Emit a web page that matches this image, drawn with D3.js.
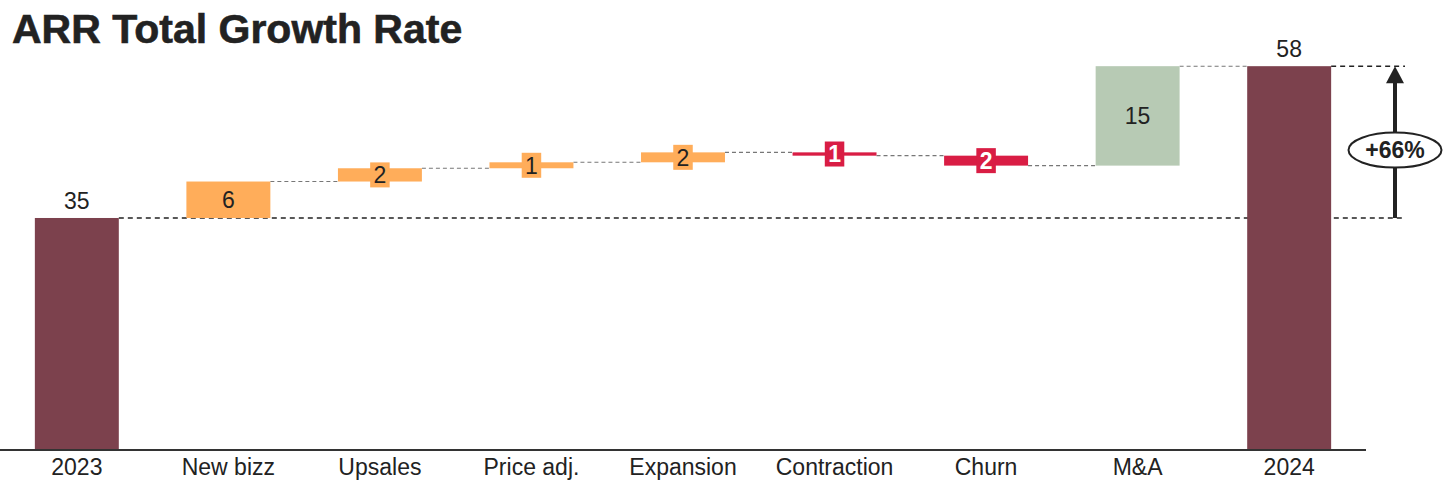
<!DOCTYPE html>
<html><head><meta charset="utf-8">
<script src="https://cdn.jsdelivr.net/npm/d3@7"></script>
<style>body{margin:0;background:#fff;}svg{display:block;font-family:"Liberation Sans",Arial,sans-serif;}</style>
</head><body>
<svg id="c" width="1456" height="496"></svg>
<script>
const categories = ["2023","New bizz","Upsales","Price adj.","Expansion","Contraction","Churn","M&A","2024"];
const values = [35, 5.5, 2.0, 0.9, 1.5, -0.5, -1.5, 15, 57.9];
const types = ["total","up","up","up","up","down","down","ma","total"];
const labels = ["35","6","2","1","2","1","2","15","58"];
const growthLabel = "+66%";

const colors = {total:"#7c414d", up:"#ffad5a", down:"#d91d44", ma:"#b7cab4"};
const svg = d3.select("#c");

svg.append("text").attr("x",12).attr("y",43).attr("font-size",41).attr("font-weight","bold")
  .attr("fill","#222").attr("stroke","#222").attr("stroke-width",0.6).text("ARR Total Growth Rate");

const x = d3.scaleBand().domain(categories).range([0,1366]).paddingInner(0.446).paddingOuter(0.23);
const y = d3.scaleLinear().domain([0,60]).range([450, 450-60*6.629]);

let run = 0;
const bars = categories.map((c,i)=>{
  let y0,y1;
  if(types[i]==="total"){ y0=0; y1=values[i]; run=values[i]; }
  else { y0=run; y1=run+values[i]; run=y1; }
  return {c, i, y0, y1, type:types[i], label:labels[i]};
});

const g = svg.append("g");
const arrowX = 1395;
const first = bars[0], last = bars[bars.length-1];
g.append("line").attr("x1",x(first.c)+x.bandwidth()).attr("x2",arrowX+10)
  .attr("y1",y(first.y1)).attr("y2",y(first.y1))
  .attr("stroke","#222").attr("stroke-width",1.4).attr("stroke-dasharray","5,4");
g.append("line").attr("x1",x(last.c)+x.bandwidth()).attr("x2",arrowX+10)
  .attr("y1",y(last.y1)).attr("y2",y(last.y1))
  .attr("stroke","#222").attr("stroke-width",1.4).attr("stroke-dasharray","5,4");

for(let i=2;i<bars.length;i++){
  const prev = bars[i-1];
  const lvl = prev.y1;
  g.append("line").attr("x1",x(prev.c)+x.bandwidth()).attr("x2",x(bars[i].c))
    .attr("y1",y(lvl)).attr("y2",y(lvl))
    .attr("stroke","#777").attr("stroke-width",1.1).attr("stroke-dasharray","4,3");
}

g.selectAll("rect.bar").data(bars).join("rect").attr("class","bar")
  .attr("x",d=>x(d.c)).attr("width",x.bandwidth())
  .attr("y",d=>y(Math.max(d.y0,d.y1))).attr("height",d=>Math.abs(y(d.y0)-y(d.y1)))
  .attr("fill",d=>colors[d.type]);

bars.forEach(d=>{
  const cx = x(d.c)+x.bandwidth()/2;
  if(d.type==="total"){
    g.append("text").attr("x",cx).attr("y",y(d.y1)-9).attr("text-anchor","middle")
      .attr("font-size",23).attr("fill","#222").text(d.label);
  } else {
    const top = y(Math.max(d.y0,d.y1)), bot = y(Math.min(d.y0,d.y1));
    const cy = (top+bot)/2;
    const h = bot-top;
    const txtCol = d.type==="down" ? "#fff" : "#222";
    if(h < 26){
      const bw = d.label.length*12.5+7;
      g.append("rect").attr("x",cx-bw/2).attr("y",cy-12.5).attr("width",bw).attr("height",25)
        .attr("fill",colors[d.type]);
    }
    g.append("text").attr("x",cx).attr("y",cy).attr("dy","0.36em").attr("text-anchor","middle")
      .attr("font-size",23).attr("fill",txtCol)
      .attr("font-weight", d.type==="down" ? "bold" : "normal").text(d.label);
  }
});

const ax = svg.append("g").attr("transform","translate(0,450)")
  .call(d3.axisBottom(x).tickSize(0).tickPadding(9));
ax.select(".domain").attr("stroke","#333").attr("stroke-width",2).attr("d","M0,0H1366");
ax.selectAll("text").attr("font-size",23).attr("fill","#222").attr("font-family","Liberation Sans, Arial, sans-serif");

const yTop = y(last.y1), yBot = y(first.y1);
svg.append("line").attr("x1",arrowX).attr("x2",arrowX).attr("y1",yBot).attr("y2",yTop+15)
  .attr("stroke","#222").attr("stroke-width",4);
svg.append("path").attr("d",`M${arrowX},${yTop} L${arrowX-9},${yTop+17} L${arrowX+9},${yTop+17} Z`).attr("fill","#222");
const ey = (yTop+yBot)/2 + 8;
svg.append("ellipse").attr("cx",arrowX).attr("cy",ey).attr("rx",46.5).attr("ry",17.5)
  .attr("fill","#fff").attr("stroke","#222").attr("stroke-width",2);
svg.append("text").attr("x",arrowX).attr("y",ey).attr("dy","0.36em").attr("text-anchor","middle")
  .attr("font-size",23).attr("font-weight","bold").attr("fill","#222").text(growthLabel);
</script>
</body></html>
